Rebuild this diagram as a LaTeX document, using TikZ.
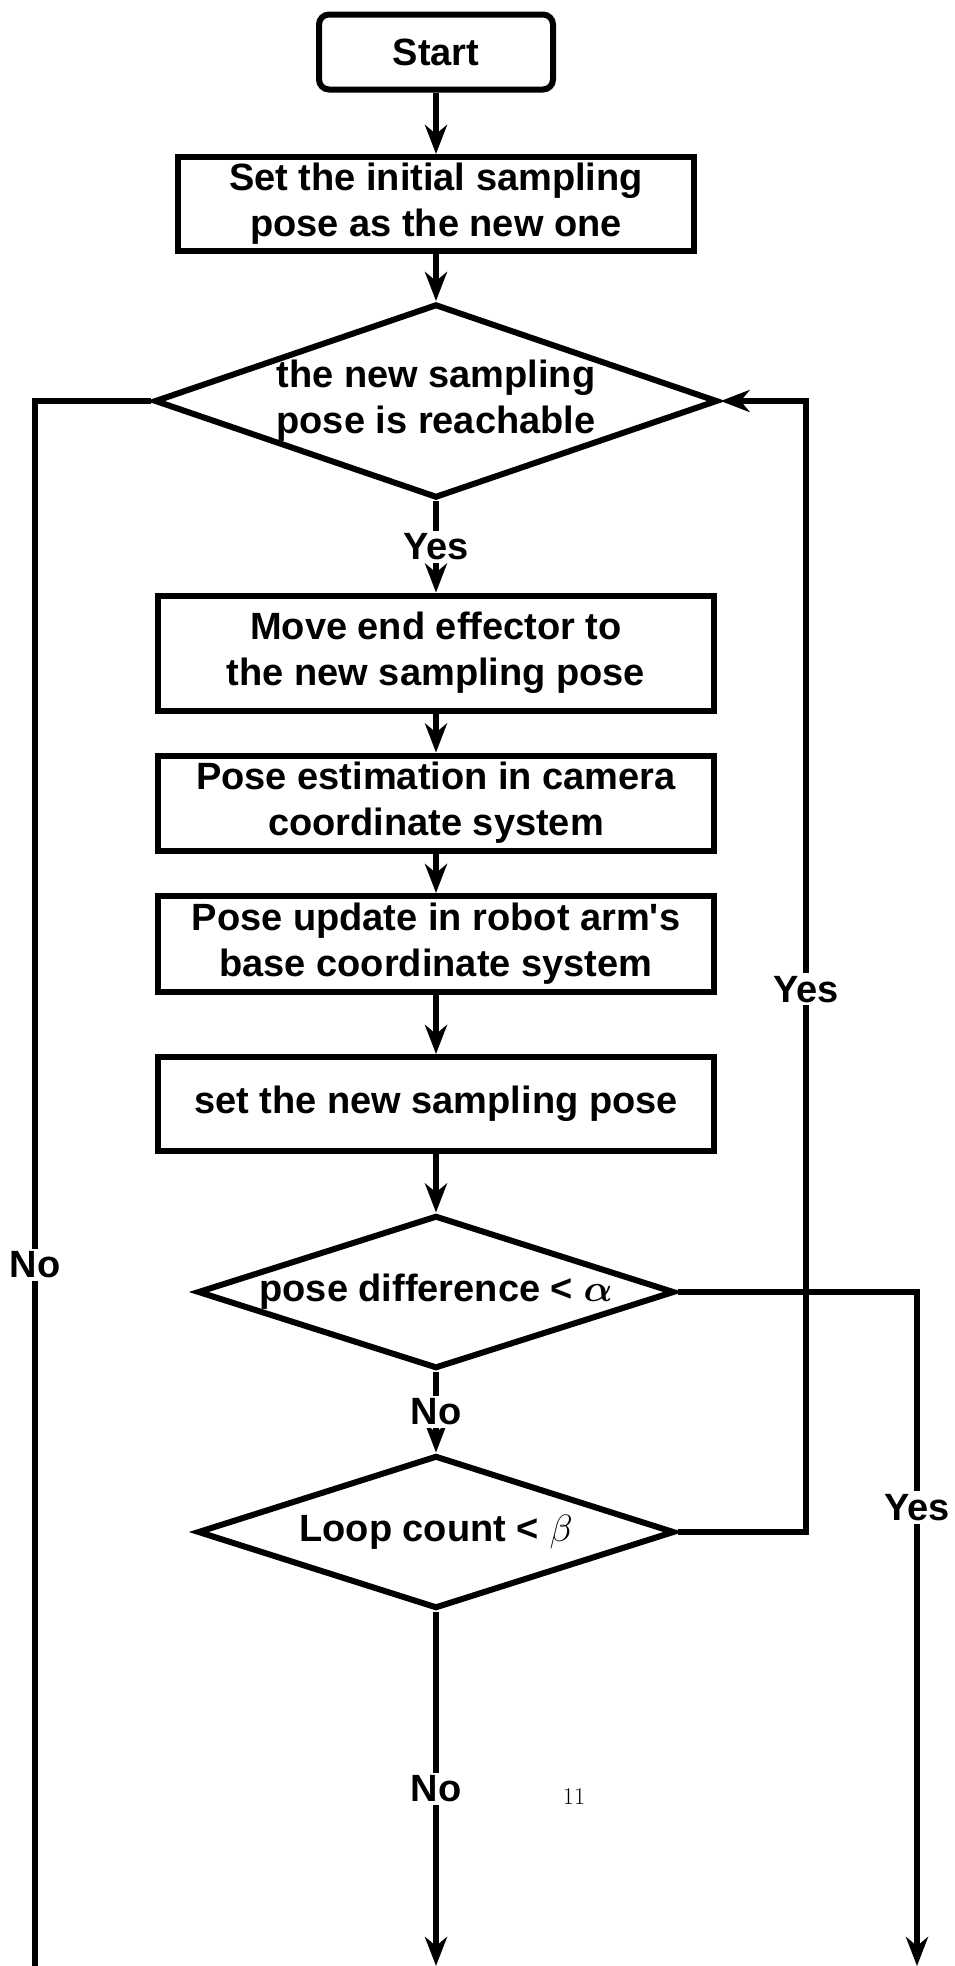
\RequirePackage{fix-cm}
\documentclass[tikz,border=0pt]{standalone}
\usepackage{amsmath}
\usepackage{fontspec}
\newfontfamily\chartfont{Liberation Sans}
\usetikzlibrary{arrows.meta,shapes.geometric}

\begin{document}
\begin{tikzpicture}[
    x=1pt, y=-1pt, line width=6pt,
    chart/.style={font=\chartfont\bfseries\fontsize{38}{46}\selectfont, align=center},
    startbox/.style={chart, rectangle, rounded corners=10pt, draw, minimum width=234pt, minimum height=75pt},
    process/.style={chart, rectangle, draw, inner sep=0pt, minimum width=556pt, minimum height=95pt},
    decision/.style={chart, diamond, draw, aspect=3, inner sep=0pt, minimum width=477pt, minimum height=153pt},
    lbl/.style={chart, fill=white, inner sep=3pt},
    arr/.style={-{Stealth[length=29pt,width=22pt,inset=9pt]}}
]
\useasboundingbox (0,0) rectangle (955,1966);

% Boxes
\node[startbox] (start) at (436,52) {Start};
\node[process, minimum width=516pt, minimum height=94pt] (init) at (436,204) {Set the initial sampling\\pose as the new one};
\node[decision, minimum width=556pt, minimum height=194pt] (reach) at (436,401) {the new sampling\\pose is reachable};
\node[process, minimum height=115pt] (move) at (436,653) {Move end effector to\\the new sampling pose};
\node[process] (estim) at (436,803) {Pose estimation in camera\\coordinate system};
\node[process, minimum height=96pt] (update) at (436,944) {Pose update in robot arm\textquotesingle s\\base coordinate system};
\node[process, minimum height=94pt] (setnew) at (436,1104) {set the new sampling pose};
\node[decision] (diff) at (436,1292) {pose difference < $\boldsymbol{\alpha}$};
\node[decision] (loop) at (436,1532) {Loop count < $\beta$};
\node[font=\fontsize{24}{28}\selectfont] (pagenum) at (574,1797) {11};

\coordinate (endl) at (35,1966);
\coordinate (endm) at (436,1966);
\coordinate (endr) at (917,1966);
\coordinate (turn) at (806,401);

% Arrows
\draw[arr] (start) -- (init);
\draw[arr] (init) -- (reach);
\draw[arr] (reach) -- node[lbl] {Yes} (move);
\draw[arr] (move) -- (estim);
\draw[arr] (estim) -- (update);
\draw[arr] (update) -- (setnew);
\draw[arr] (setnew) -- (diff);
\draw[arr] (diff) -- node[lbl] {No} (loop);
\draw[arr] (loop) -- node[lbl] {No} (endm);
\draw (reach.west) -| node[lbl, pos=0.776] {No} (endl);
\draw[arr] (loop.east) -| node[lbl, pos=0.74] {Yes} (turn) -- (reach.east);
\draw[arr] (diff.east) -| node[lbl, pos=0.66] {Yes} (endr);
\end{tikzpicture}
\end{document}
